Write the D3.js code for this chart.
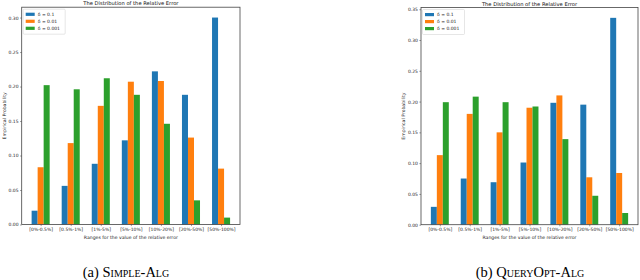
<!DOCTYPE html>
<html><head><meta charset="utf-8">
<script src="https://cdn.jsdelivr.net/npm/d3@7"></script>
<style>
html,body{margin:0;padding:0;background:#fff;}
svg{display:block;}
</style></head>
<body>
<svg id="chart" width="640" height="280"></svg>
<script>
const categories = ["[0%-0.5%]", "[0.5%-1%]", "[1%-5%]", "[5%-10%]", "[10%-20%]", "[20%-50%]", "[50%-100%]"];
const seriesNames = ["δ = 0.1", "δ = 0.01", "δ = 0.001"];
const seriesColors = ["#1f77b4", "#ff7f0e", "#2ca02c"];
// (a) Simple-Alg
const simpleDelta01   = [0.020, 0.056, 0.088, 0.122, 0.222, 0.188, 0.300];
const simpleDelta001  = [0.083, 0.118, 0.172, 0.207, 0.208, 0.126, 0.081];
const simpleDelta0001 = [0.202, 0.196, 0.212, 0.188, 0.146, 0.035, 0.010];
const simpleTicks = [0.00, 0.05, 0.10, 0.15, 0.20, 0.25, 0.30];
// (b) QueryOpt-Alg
const queryDelta01   = [0.029, 0.075, 0.069, 0.101, 0.198, 0.195, 0.336];
const queryDelta001  = [0.113, 0.180, 0.150, 0.190, 0.210, 0.077, 0.084];
const queryDelta0001 = [0.199, 0.208, 0.199, 0.192, 0.139, 0.047, 0.019];
const queryTicks = [0.00, 0.05, 0.10, 0.15, 0.20, 0.25, 0.30, 0.35];

const title = "The Distribution of the Relative Error";
const xLabel = "Ranges for the value of the relative error";
const yLabel = "Empirical Probability";

const svg = d3.select("#chart");
const FONT = "DejaVu Sans, sans-serif";

function panel(cfg) {
  const {left, right, top, bottom, series, ticks, ylabX, caption, capX} = cfg;
  const g = svg.append("g");
  const barW = 0.2;
  const x = d3.scaleLinear().domain([-0.3 - 0.33, 6.3 + 0.33]).range([left, right]);
  const maxV = d3.max(series.flat());
  const y = d3.scaleLinear().domain([0, maxV * 1.05]).range([bottom, top]);

  // bars
  series.forEach((vals, j) => {
    g.append("g").selectAll("rect").data(vals).join("rect")
      .attr("x", (d, i) => x(i + (j - 1) * barW - barW / 2))
      .attr("width", (d, i) => x(i + barW) - x(i))
      .attr("y", d => y(d))
      .attr("height", d => y(0) - y(d))
      .attr("fill", seriesColors[j]);
  });

  // y axis
  const ya = g.append("g").attr("transform", `translate(${left},0)`)
    .call(d3.axisLeft(y).tickValues(ticks).tickFormat(d3.format(".2f")).tickSize(1.6).tickPadding(1.5));
  ya.select(".domain").remove();
  ya.selectAll("line").attr("stroke", "#333").attr("stroke-width", 0.5);
  ya.selectAll("text").attr("font-family", FONT).attr("font-size", 4.5).attr("fill", "#222");

  // x axis
  const xa = g.append("g").attr("transform", `translate(0,${bottom})`)
    .call(d3.axisBottom(x).tickValues(d3.range(categories.length)).tickFormat(i => categories[i]).tickSize(1.6).tickPadding(1.5));
  xa.select(".domain").remove();
  xa.selectAll("line").attr("stroke", "#333").attr("stroke-width", 0.5);
  xa.selectAll("text").attr("font-family", FONT).attr("font-size", 4.5).attr("fill", "#222");

  // frame
  g.append("rect").attr("x", left).attr("y", top)
    .attr("width", right - left).attr("height", bottom - top)
    .attr("fill", "none").attr("stroke", "#444").attr("stroke-width", 0.8);

  // title
  g.append("text").attr("x", (left + right) / 2).attr("y", top - 1.8)
    .attr("text-anchor", "middle").attr("font-family", FONT).attr("font-size", 5.2)
    .attr("fill", "#111").text(title);
  // x label
  g.append("text").attr("x", (left + right) / 2).attr("y", bottom + 14.5)
    .attr("text-anchor", "middle").attr("font-family", FONT).attr("font-size", 4.6)
    .attr("fill", "#222").text(xLabel);
  // y label
  g.append("text").attr("transform", `translate(${ylabX},${(top + bottom) / 2}) rotate(-90)`)
    .attr("text-anchor", "middle").attr("font-family", FONT).attr("font-size", 4.6)
    .attr("fill", "#222").text(yLabel);

  // legend
  const lg = g.append("g").attr("transform", `translate(${left + 1.5},${top + 2})`);
  lg.append("rect").attr("width", 42).attr("height", 25).attr("rx", 1)
    .attr("fill", "#fff").attr("fill-opacity", 0.8).attr("stroke", "#ccc").attr("stroke-width", 0.5);
  seriesNames.forEach((name, j) => {
    lg.append("rect").attr("x", 2.5).attr("y", 3.5 + j * 7).attr("width", 9).attr("height", 3.2)
      .attr("fill", seriesColors[j]);
    lg.append("text").attr("x", 14.5).attr("y", 6.7 + j * 7)
      .attr("font-family", FONT).attr("font-size", 4.5).attr("fill", "#222").text(name);
  });

  // caption
  const cap = svg.append("text").attr("x", capX).attr("y", 276.5)
    .attr("text-anchor", "middle").attr("font-family", "Liberation Serif, serif")
    .attr("font-size", 14.5).attr("fill", "#000");
  cap.append("tspan").text(caption[0]);
  cap.append("tspan").style("font-variant", "small-caps").text(caption[1]);
}

panel({left: 21.7, right: 240, top: 7.2, bottom: 224.5,
  series: [simpleDelta01, simpleDelta001, simpleDelta0001], ticks: simpleTicks,
  ylabX: 5.5, caption: ["(a) ", "Simple-Alg"], capX: 126});
panel({left: 421, right: 638, top: 7.5, bottom: 224.7,
  series: [queryDelta01, queryDelta001, queryDelta0001], ticks: queryTicks,
  ylabX: 404.5, caption: ["(b) ", "QueryOpt-Alg"], capX: 530});
</script>
</body></html>
